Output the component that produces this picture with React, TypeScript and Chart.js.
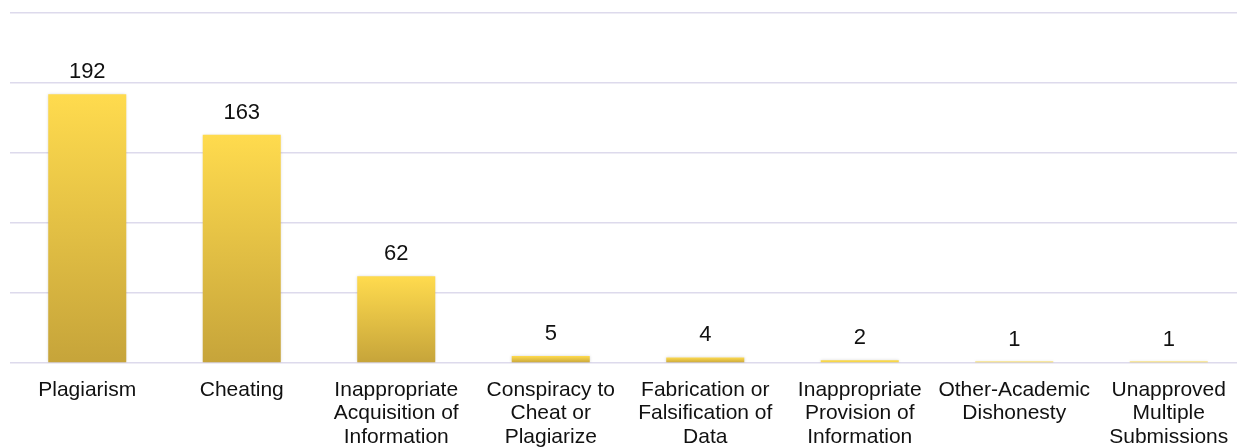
import React, { useEffect, useRef } from "react";
import { Chart, registerables } from "chart.js";

Chart.register(...registerables);

const categories: string[][] = [
  ["Plagiarism"],
  ["Cheating"],
  ["Inappropriate", "Acquisition of", "Information"],
  ["Conspiracy to", "Cheat or", "Plagiarize"],
  ["Fabrication or", "Falsification of", "Data"],
  ["Inappropriate", "Provision of", "Information"],
  ["Other-Academic", "Dishonesty"],
  ["Unapproved", "Multiple", "Submissions"],
];
const counts: number[] = [192, 163, 62, 5, 4, 2, 1, 1];
const yMax = 250;
const yStep = 50;

const FONT = "'Liberation Sans', Arial, Helvetica, sans-serif";

const valueLabels = {
  id: "valueLabels",
  afterDatasetsDraw(chart: any) {
    const ctx = chart.ctx;
    const meta = chart.getDatasetMeta(0);
    ctx.save();
    ctx.font = `22px ${FONT}`;
    ctx.fillStyle = "#111111";
    ctx.textAlign = "center";
    ctx.textBaseline = "alphabetic";
    meta.data.forEach((bar: any, i: number) => {
      ctx.fillText(String(counts[i]), bar.x, bar.y - 16);
    });
    ctx.restore();
  },
};

const barShadow = {
  id: "barShadow",
  beforeDatasetsDraw(chart: any) {
    const ctx = chart.ctx;
    ctx.save();
    ctx.shadowColor = "rgba(0,0,0,0.18)";
    ctx.shadowBlur = 3;
    ctx.shadowOffsetX = 0;
    ctx.shadowOffsetY = 0;
  },
  afterDatasetsDraw(chart: any) {
    chart.ctx.restore();
  },
};

export default function App() {
  const ref = useRef<HTMLCanvasElement | null>(null);
  useEffect(() => {
    document.body.style.margin = "0";
    const canvas = ref.current!;
    const chart = new Chart(canvas, {
      type: "bar",
      data: {
        labels: categories,
        datasets: [
          {
            data: counts,
            barPercentage: 0.505,
            categoryPercentage: 1,
            borderWidth: 0,
            backgroundColor: (c: any) => {
              const ch = c.chart;
              const y = ch.scales && ch.scales.y;
              if (!y || c.raw === undefined) return "#e2c046";
              const top = y.getPixelForValue(c.raw);
              const bottom = y.getPixelForValue(0);
              if (!isFinite(top) || !isFinite(bottom) || bottom - top < 4) return "#f8d748";
              const g = ch.ctx.createLinearGradient(0, top, 0, bottom);
              g.addColorStop(0, "#ffdb4e");
              g.addColorStop(1, "#c6a43a");
              return g;
            },
          },
        ],
      },
      options: {
        animation: false,
        responsive: false,
        maintainAspectRatio: false,
        layout: { padding: { top: 13, left: 0, right: 0, bottom: 0 } },
        plugins: { legend: { display: false }, tooltip: { enabled: false } },
        scales: {
          x: {
            grid: { display: false, drawTicks: false },
            border: { display: false },
            ticks: {
              autoSkip: false,
              maxRotation: 0,
              minRotation: 0,
              padding: 15,
              color: "#111111",
              font: { family: FONT, size: 21, lineHeight: 1.12 },
            },
            afterFit: (s: any) => {
              s.height = 85;
            },
          },
          y: {
            min: 0,
            max: yMax,
            ticks: { display: false, stepSize: yStep },
            grid: { color: "#dddaec", lineWidth: 1.5, drawTicks: false },
            border: { display: false },
            afterFit: (s: any) => {
              s.width = 10;
            },
          },
        },
      },
      plugins: [barShadow, valueLabels],
    });
    return () => chart.destroy();
  }, []);
  return (
    <div style={{ width: 1237, height: 448, overflow: "hidden", position: "relative", background: "#fff" }}>
      <canvas ref={ref} width={1246} height={448} style={{ width: 1246, height: 448, display: "block" }} />
    </div>
  );
}
